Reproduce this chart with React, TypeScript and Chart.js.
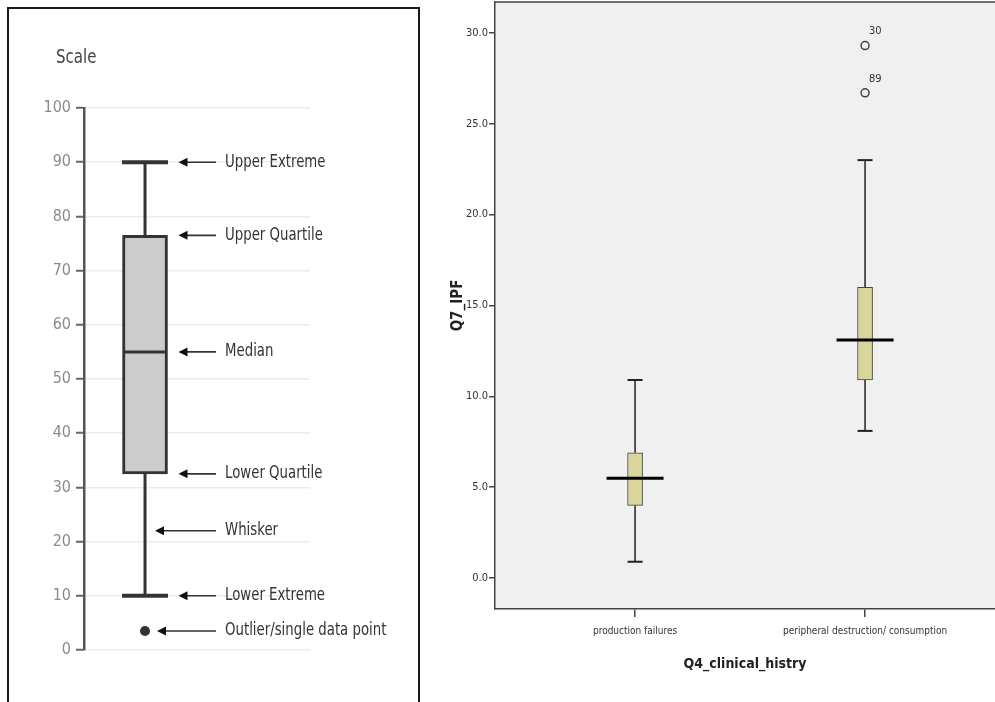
import React, { useEffect, useRef } from "react";
import { Chart, registerables } from "chart.js";

Chart.register(...registerables);

// ---------- Left panel: anatomy of a box plot ----------
const scaleTicks = [0, 10, 20, 30, 40, 50, 60, 70, 80, 90, 100];
const demoLowerExtreme = 10;
const demoQ1 = 32.5;
const demoMedian = 55;
const demoQ3 = 76.5;
const demoUpperExtreme = 90;
const demoOutlier = 3.5;
const annotationLabels = [
  "Upper Extreme",
  "Upper Quartile",
  "Median",
  "Lower Quartile",
  "Whisker",
  "Lower Extreme",
  "Outlier/single data point",
];
const annotationValues = [90, 76.5, 55, 32.5, 22, 10, 3.5];
const annotationAnchors = ["box", "box", "box", "box", "whisker", "box", "point"];

// ---------- Right panel: SPSS box plot ----------
const categories = ["production failures", "peripheral destruction/ consumption"];
const whiskerLow = [0.9, 8.1];
const q1 = [4.0, 10.9];
const median = [5.5, 13.1];
const q3 = [6.9, 16.0];
const whiskerHigh = [10.9, 23.0];
const outlierValues = [29.3, 26.7];
const outlierCategory = [1, 1];
const outlierIds = ["30", "89"];
const yTicks = [0, 5, 10, 15, 20, 25, 30];

const NARROW = '"DejaVu Sans Condensed", "DejaVu Sans", sans-serif';

function line(ctx: CanvasRenderingContext2D, x1: number, y1: number, x2: number, y2: number) {
  ctx.beginPath();
  ctx.moveTo(x1, y1);
  ctx.lineTo(x2, y2);
  ctx.stroke();
}

function narrowText(ctx: CanvasRenderingContext2D, text: string, x: number, y: number, squeeze: number) {
  const w = ctx.measureText(text).width;
  ctx.fillText(text, x, y, w * squeeze);
}

const anatomyPlugin = {
  id: "anatomy",
  beforeDatasetsDraw(chart: any) {
    const { ctx, scales } = chart;
    const x = scales.x;
    const y = scales.y;
    const cx = x.getPixelForValue(0);
    ctx.save();
    ctx.strokeStyle = "#333";
    ctx.lineWidth = 3;
    line(ctx, cx, y.getPixelForValue(demoLowerExtreme), cx, y.getPixelForValue(demoQ1));
    line(ctx, cx, y.getPixelForValue(demoQ3), cx, y.getPixelForValue(demoUpperExtreme));
    ctx.lineWidth = 4;
    line(ctx, cx - 23, y.getPixelForValue(demoLowerExtreme), cx + 23, y.getPixelForValue(demoLowerExtreme));
    line(ctx, cx - 23, y.getPixelForValue(demoUpperExtreme), cx + 23, y.getPixelForValue(demoUpperExtreme));
    ctx.restore();
  },
  afterDatasetsDraw(chart: any) {
    const { ctx, scales } = chart;
    const x = scales.x;
    const y = scales.y;
    const cx = x.getPixelForValue(0);
    ctx.save();
    // median
    ctx.strokeStyle = "#333";
    ctx.lineWidth = 3;
    line(ctx, cx - 22, y.getPixelForValue(demoMedian), cx + 22, y.getPixelForValue(demoMedian));
    // "Scale" heading
    ctx.fillStyle = "#444";
    ctx.font = `19px ${NARROW}`;
    ctx.textAlign = "left";
    ctx.textBaseline = "middle";
    narrowText(ctx, "Scale", 47, 49, 0.88);
    // annotations
    ctx.font = `17px ${NARROW}`;
    annotationLabels.forEach((label, i) => {
      const py = y.getPixelForValue(annotationValues[i]);
      const anchor = annotationAnchors[i];
      const tip = anchor === "box" ? cx + 33.5 : anchor === "whisker" ? cx + 10 : cx + 12;
      const end = cx + 71;
      ctx.strokeStyle = "#333";
      ctx.lineWidth = 1.6;
      line(ctx, tip + 6, py, end, py);
      ctx.fillStyle = "#111";
      ctx.beginPath();
      ctx.moveTo(tip, py);
      ctx.lineTo(tip + 9, py - 4.5);
      ctx.lineTo(tip + 9, py + 4.5);
      ctx.closePath();
      ctx.fill();
      ctx.fillStyle = "#333";
      narrowText(ctx, label, cx + 80, py, 0.87);
    });
    ctx.restore();
  },
};

const spssPlugin = {
  id: "spss",
  beforeDraw(chart: any) {
    const { ctx, chartArea } = chart;
    ctx.save();
    ctx.fillStyle = "#f0f0f0";
    ctx.fillRect(chartArea.left, chartArea.top, chartArea.right - chartArea.left, chartArea.bottom - chartArea.top);
    ctx.restore();
  },
  beforeDatasetsDraw(chart: any) {
    const { ctx, scales } = chart;
    const x = scales.x;
    const y = scales.y;
    ctx.save();
    ctx.strokeStyle = "#222";
    categories.forEach((_, i) => {
      const cx = x.getPixelForValue(i + 1);
      ctx.lineWidth = 1.5;
      line(ctx, cx, y.getPixelForValue(whiskerLow[i]), cx, y.getPixelForValue(q1[i]));
      line(ctx, cx, y.getPixelForValue(q3[i]), cx, y.getPixelForValue(whiskerHigh[i]));
      ctx.lineWidth = 2;
      line(ctx, cx - 7.5, y.getPixelForValue(whiskerLow[i]), cx + 7.5, y.getPixelForValue(whiskerLow[i]));
      line(ctx, cx - 7.5, y.getPixelForValue(whiskerHigh[i]), cx + 7.5, y.getPixelForValue(whiskerHigh[i]));
    });
    ctx.restore();
  },
  afterDatasetsDraw(chart: any) {
    const { ctx, scales, chartArea } = chart;
    const x = scales.x;
    const y = scales.y;
    ctx.save();
    ctx.strokeStyle = "#000";
    ctx.lineWidth = 3;
    categories.forEach((_, i) => {
      const cx = x.getPixelForValue(i + 1);
      const py = y.getPixelForValue(median[i]);
      line(ctx, cx - 28.5, py, cx + 28.5, py);
    });
    ctx.fillStyle = "#333";
    ctx.font = `11px ${NARROW}`;
    ctx.textAlign = "left";
    ctx.textBaseline = "middle";
    outlierIds.forEach((id, i) => {
      const px = x.getPixelForValue(outlierCategory[i] + 1);
      const py = y.getPixelForValue(outlierValues[i]);
      ctx.fillText(id, px + 4, py - 14);
    });
    ctx.strokeStyle = "#444";
    ctx.lineWidth = 1.5;
    line(ctx, chartArea.left, chartArea.top, chartArea.right, chartArea.top);
    ctx.restore();
  },
};

function AnatomyChart() {
  const ref = useRef<HTMLCanvasElement | null>(null);
  useEffect(() => {
    if (!ref.current) return;
    const chart = new Chart(ref.current, {
      type: "bar",
      data: {
        datasets: [
          {
            type: "bar",
            data: [{ x: 0, y: [demoQ1, demoQ3] }] as any,
            backgroundColor: "#cccccc",
            borderColor: "#333",
            borderWidth: 3,
            borderSkipped: false,
            barThickness: 45,
          } as any,
          {
            type: "scatter",
            data: [{ x: 0, y: demoOutlier }],
            pointRadius: 5,
            pointStyle: "circle",
            backgroundColor: "#333",
            borderColor: "#333",
            borderWidth: 0,
          } as any,
        ],
      },
      options: {
        animation: false,
        responsive: false,
        events: [],
        layout: { autoPadding: false, padding: { top: 99, right: 108, bottom: 52, left: 0 } },
        plugins: { legend: { display: false }, tooltip: { enabled: false } },
        scales: {
          x: { type: "linear", display: false, offset: false, min: -0.27, max: 0.73 },
          y: {
            type: "linear",
            min: 0,
            max: 100,
            afterBuildTicks: (s: any) => {
              s.ticks = scaleTicks.map((v) => ({ value: v }));
            },
            afterFit: (s: any) => {
              s.width = 75;
            },
            ticks: {
              color: "#8a8a8a",
              font: { family: NARROW, size: 16 },
              padding: 5,
            },
            grid: {
              color: "#ebebeb",
              lineWidth: 1.5,
              tickColor: "#666",
              tickLength: 8,
              tickWidth: 2,
            } as any,
            border: { color: "#555", width: 2.5 },
          },
        },
      } as any,
      plugins: [anatomyPlugin],
    });
    return () => chart.destroy();
  }, []);
  return <canvas ref={ref} width={409} height={693} style={{ width: 409, height: 693, display: "block" }} />;
}

function SpssChart() {
  const ref = useRef<HTMLCanvasElement | null>(null);
  useEffect(() => {
    if (!ref.current) return;
    const chart = new Chart(ref.current, {
      type: "bar",
      data: {
        datasets: [
          {
            type: "bar",
            data: categories.map((_, i) => ({ x: i + 1, y: [q1[i], q3[i]] })) as any,
            backgroundColor: "rgb(217,213,155)",
            borderColor: "#444",
            borderWidth: 1,
            borderSkipped: false,
            barThickness: 15,
          } as any,
          {
            type: "scatter",
            data: outlierValues.map((v, i) => ({ x: outlierCategory[i] + 1, y: v })),
            pointRadius: 4,
            pointStyle: "circle",
            backgroundColor: "rgba(0,0,0,0)",
            borderColor: "#444",
            borderWidth: 1.5,
          } as any,
        ],
      },
      options: {
        animation: false,
        responsive: false,
        events: [],
        layout: { autoPadding: false, padding: { top: 2, right: 0, bottom: 0, left: 0 } },
        plugins: { legend: { display: false }, tooltip: { enabled: false } },
        scales: {
          x: {
            type: "linear",
            offset: false,
            min: 0.391,
            max: 2.565,
            afterBuildTicks: (s: any) => {
              s.ticks = categories.map((_, i) => ({ value: i + 1 }));
            },
            afterFit: (s: any) => {
              s.height = 93;
              s.paddingLeft = 0;
              s.paddingRight = 0;
            },
            ticks: {
              callback: (v: any) => categories[Number(v) - 1] ?? "",
              color: "#333",
              font: { family: NARROW, size: 10 },
              padding: 8,
              maxRotation: 0,
              autoSkip: false,
            },
            grid: { drawOnChartArea: false, offset: false, color: "#444", tickLength: 8, lineWidth: 1.5 },
            border: { color: "#444", width: 1.5 },
            title: {
              display: true,
              text: "Q4_clinical_histry",
              color: "#222",
              font: { family: NARROW, size: 14, weight: "bold" },
              padding: { top: 0, bottom: 29 },
            },
          },
          y: {
            type: "linear",
            min: -1.7,
            max: 31.7,
            afterBuildTicks: (s: any) => {
              s.ticks = yTicks.map((v) => ({ value: v }));
            },
            afterFit: (s: any) => {
              s.width = 75;
              s.paddingTop = 0;
              s.paddingBottom = 0;
            },
            ticks: {
              callback: (v: any) => Number(v).toFixed(1),
              color: "#333",
              font: { family: NARROW, size: 11 },
              padding: 1,
            },
            grid: { drawOnChartArea: false, color: "#444", tickLength: 6, lineWidth: 1.5 },
            border: { color: "#444", width: 1.5 },
            title: {
              display: true,
              text: "Q7_IPF",
              color: "#222",
              font: { family: NARROW, size: 15, weight: "bold" },
              padding: { top: 29, bottom: 0 },
            },
          },
        },
      } as any,
      plugins: [spssPlugin],
    });
    return () => chart.destroy();
  }, []);
  return <canvas ref={ref} width={575} height={702} style={{ width: 575, height: 702, display: "block" }} />;
}

export default function App() {
  return (
    <div style={{ position: "absolute", left: 0, top: 0, width: 995, height: 702, overflow: "hidden", background: "#fff" }}>
      <div
        style={{
          position: "absolute",
          left: 7,
          top: 7,
          width: 413,
          height: 710,
          borderTop: "2px solid #1a1a1a",
          borderLeft: "2px solid #1a1a1a",
          borderRight: "2px solid #1a1a1a",
          boxSizing: "border-box",
        }}
      />
      <div style={{ position: "absolute", left: 9, top: 9 }}>
        <AnatomyChart />
      </div>
      <div style={{ position: "absolute", left: 420, top: 0 }}>
        <SpssChart />
      </div>
    </div>
  );
}
